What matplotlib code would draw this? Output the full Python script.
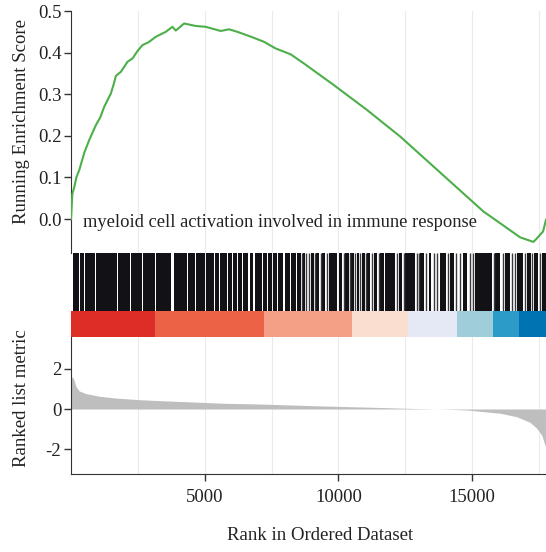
import matplotlib
matplotlib.use("Agg")
import matplotlib.pyplot as plt
import numpy as np

plt.rcParams['font.family'] = ['Liberation Serif', 'DejaVu Serif']

N_GENES = 17760

# Running enrichment score (rank, ES)
es_rank = [1, 50, 124, 200, 311, 500, 683, 933, 1100, 1243, 1493, 1600, 1679, 1866,
           2114, 2301, 2500, 2674, 2900, 3171, 3544, 3793, 3918, 4229, 4664, 5037,
           5597, 5908, 6219, 6779, 7214, 7650, 8209, 8706, 9826, 11070, 12313,
           13557, 14800, 15422, 16044, 16790, 17287, 17400, 17536, 17650, 17760]
es_val = [0.0, 0.06, 0.077, 0.10, 0.118, 0.16, 0.19, 0.226, 0.245, 0.27, 0.302,
          0.325, 0.344, 0.354, 0.378, 0.386, 0.405, 0.418, 0.425, 0.438, 0.450,
          0.462, 0.453, 0.470, 0.464, 0.462, 0.452, 0.456, 0.450, 0.437, 0.426,
          0.410, 0.396, 0.374, 0.322, 0.262, 0.198, 0.126, 0.054, 0.018, -0.010,
          -0.044, -0.055, -0.048, -0.038, -0.030, -0.002]

# Ranked list metric (rank, value)
rl_rank = [1, 87, 187, 311, 560, 1057, 1679, 2549, 3544, 4664, 5783, 6966, 9391,
           11690, 12935, 14055, 14800, 16044, 16666, 17163, 17412, 17598, 17760]
rl_val = [1.60, 1.52, 1.10, 0.89, 0.76, 0.63, 0.54, 0.46, 0.40, 0.34, 0.28, 0.25,
          0.15, 0.07, 0.02, -0.01, -0.05, -0.21, -0.38, -0.66, -0.95, -1.28, -1.94]

# Gene-set hit runs (start rank, end rank)
hit_runs = [(75, 299), (336, 485), (522, 896), (933, 1735), (1772, 2220),
            (2257, 2668), (2705, 3134), (3172, 3750), (3862, 4328),
            (4384, 4645), (4690, 5019), (5063, 5328), (5373, 5515), (5560, 5828),
            (5873, 6015), (6060, 6201), (6246, 6388), (6433, 6634), (6679, 6821),
            (6866, 7134), (7179, 7321), (7366, 7507), (7552, 7694), (7739, 7940),
            (7985, 8190), (8235, 8400), (8459, 8582), (8668, 8742), (8955, 9078),
            (9142, 9265), (9392, 9515), (9638, 9951), (10011, 10138),
            (10261, 10384), (10448, 10571), (10697, 10757), (10884, 11007),
            (11071, 11194), (11317, 11444), (11567, 11690), (11754, 12127),
            (12250, 12377), (12500, 12873), (13060, 13183), (13369, 13459),
            (13806, 14030), (14179, 14302), (14675, 14824), (15112, 15735),
            (15858, 16045), (16231, 16418), (16668, 16914), (17041, 17190),
            (17313, 17474), (17601, 17760)]

# Single thin hits between the runs
hit_single = [8625, 8800, 8890, 9110, 9330, 9575, 10200, 10415, 10635, 10820,
              11040, 11255, 11505, 12190, 12440, 12930, 13000, 13280, 13560,
              13700, 14100, 14400, 14560, 14920, 15030, 15800, 16140, 16500,
              16590, 16980, 17250, 17540]

# Colour bar segments (rank boundaries and colours)
bar_edges = [0, 3134, 7200, 10520, 12610, 14440, 15780, 16750, 17760]
bar_colors = ['#DE2D26', '#EC6246', '#F3A087', '#FADED0', '#E4E9F5',
              '#A0CDDA', '#2D9BC8', '#0073B2']

x_ticks = [5000, 10000, 15000]
grid_x = [2500, 5000, 7500, 10000, 12500, 15000, 17500]
es_ticks = [0.0, 0.1, 0.2, 0.3, 0.4, 0.5]
rl_ticks = [2, 0, -2]
label = "myeloid cell activation involved in immune response"

W, H = 546, 552
fig = plt.figure(figsize=(W / 100, H / 100), dpi=100)

def ax_at(x0, y0, x1, y1):
    return fig.add_axes([x0 / W, 1 - y1 / H, (x1 - x0) / W, (y1 - y0) / H])

axis_col = '#333333'
grid_col = '#EBEBEB'
tick_fs = 13.5

# --- top panel ---
ax1 = ax_at(71, 11, 546, 253)
for g in grid_x:
    ax1.axvline(g, color=grid_col, lw=0.8, zorder=0)
ax1.plot(es_rank, es_val, color='#4DAF4A', lw=1.5, zorder=3)
ax1.set_xlim(0, N_GENES)
ax1.set_ylim(-0.0817, 0.5)
ax1.set_yticks(es_ticks)
ax1.set_yticklabels([f"{t:.1f}" for t in es_ticks], fontsize=tick_fs)
ax1.set_xticks([])
for s in ['top', 'right', 'bottom']:
    ax1.spines[s].set_visible(False)
ax1.spines['left'].set_color(axis_col)
ax1.tick_params(axis='y', colors=axis_col, labelcolor='#222222', length=5, width=1, pad=2)
ax1.text(450, -0.008, label, fontsize=13.3, va='center', ha='left', color='#222222')

# --- hits panel ---
ax2 = ax_at(71, 253, 546, 311)
for g in grid_x:
    ax2.axvline(g, color=grid_col, lw=0.8, zorder=0)
ax2.broken_barh([(s, e - s) for s, e in hit_runs], (0, 1), facecolors='#111116', zorder=2)
ax2.vlines(hit_single, 0, 1, colors='#3a3a3e', lw=1.0, zorder=2)
ax2.set_xlim(0, N_GENES)
ax2.set_ylim(0, 1)
ax2.axis('off')

# --- colour bar ---
ax3 = ax_at(71, 311, 546, 337)
ax3.broken_barh([(bar_edges[i], bar_edges[i + 1] - bar_edges[i]) for i in range(len(bar_colors))],
                (0, 1), facecolors=bar_colors)
ax3.set_xlim(0, N_GENES)
ax3.set_ylim(0, 1)
ax3.axis('off')

# --- ranked list panel ---
ax4 = ax_at(71, 337, 546, 474)
for g in grid_x:
    ax4.axvline(g, color=grid_col, lw=0.8, zorder=0)
ax4.fill_between(rl_rank, 0, rl_val, color='#BEBEBE', lw=0, zorder=2)
ax4.set_xlim(0, N_GENES)
ax4.set_ylim(-3.21, 3.556)
ax4.set_yticks(rl_ticks)
ax4.set_yticklabels([str(t) for t in rl_ticks], fontsize=tick_fs)
ax4.set_xticks(x_ticks)
ax4.set_xticklabels([str(t) for t in x_ticks], fontsize=tick_fs)
for s in ['top', 'right']:
    ax4.spines[s].set_visible(False)
for s in ['left', 'bottom']:
    ax4.spines[s].set_color(axis_col)
ax4.tick_params(colors=axis_col, labelcolor='#222222', length=5, width=1)
ax4.tick_params(axis='y', pad=2)
ax4.tick_params(axis='x', pad=6)

fig.text(22 / W, 1 - 122 / H, "Running Enrichment Score", rotation=90,
         ha='center', va='center', fontsize=13.5, color='#222222')
fig.text(22 / W, 1 - 398 / H, "Ranked list metric", rotation=90,
         ha='center', va='center', fontsize=13.5, color='#222222')
fig.text(320 / W, 1 - 535 / H, "Rank in Ordered Dataset",
         ha='center', va='center', fontsize=13.5, color='#222222')

fig.savefig("out.png", dpi=100)
